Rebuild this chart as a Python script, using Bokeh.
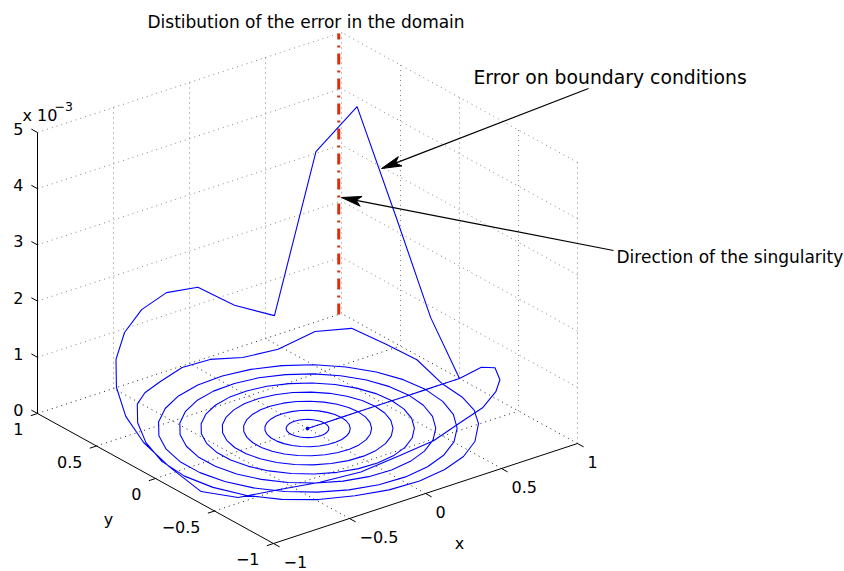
import numpy as np
from bokeh.plotting import figure
from bokeh.models import Range1d, Label
from bokeh.embed import file_html
from bokeh.resources import INLINE

# ---------------- data ----------------
N_SEGMENTS = 29                                   # angular samples per ring
THETA_DEG = np.linspace(0.0, 360.0, N_SEGMENTS + 1)
RING_RADII = [0.0, 1/9, 2/9, 3/9, 4/9, 5/9, 6/9, 7/9, 8/9, 1.0]
# error (x 1e-3) along the two outer rings, one value per angle; inner rings ~ 0
ERR_RING8 = [0.0, 0.23, 0.35, 0.53, 0.43, 0.13, 0.06, 0.16, 0.20, 0.17,
             0.23, 0.30, 0.25, 0.17, 0.09, 0.05, 0.03, 0.02, 0.02, 0.03,
             0.05, 0.05, 0.05, 0.05, 0.04, 0.04, 0.08, 0.04, 0.01, 0.0]
ERR_RING9 = [0.0, 0.86, 2.48, 4.32, 3.47, 0.57, 0.84, 1.31, 1.42, 1.37,
             1.25, 1.08, 0.90, 0.69, 0.51, 0.33, 0.09, 0.13, 0.35, 0.50,
             0.63, 0.80, 0.89, 1.00, 0.98, 0.96, 0.86, 0.76, 0.47, 0.0]

X_TICKS = [-1, -0.5, 0, 0.5, 1]
X_TICK_LABELS = ["\u22121", "\u22120.5", "0", "0.5", "1"]
Y_TICKS = [-1, -0.5, 0, 0.5, 1]
Y_TICK_LABELS = ["\u22121", "\u22120.5", "0", "0.5", "1"]
Z_TICKS = [0, 1, 2, 3, 4, 5]          # units of 1e-3
Z_TICK_LABELS = ["0", "1", "2", "3", "4", "5"]
SINGULARITY_XY = (0.982, 1.0)

TITLE = "Distibution of the error in the domain"
NOTE_BC = "Error on boundary conditions"
NOTE_SING = "Direction of the singularity"

FONT = "DejaVu Sans"

# ---------------- 3-D view (orthographic) ----------------
ORIGIN = (37.0, 413.0)     # screen position of (x=-1, y=1, z=0)
UX = (152.0, -50.0)        # per unit of x
UY = (-118.0, -65.0)       # per unit of y
UZ = (0.0, -56.2)          # per 1e-3 of z


def proj(x, y, z):
    x = np.asarray(x, float)
    y = np.asarray(y, float)
    z = np.asarray(z, float)
    sx = ORIGIN[0] + UX[0] * (x + 1) + UY[0] * (y - 1) + UZ[0] * z
    sy = ORIGIN[1] + UX[1] * (x + 1) + UY[1] * (y - 1) + UZ[1] * z
    return sx, sy


p = figure(width=844, height=571, x_range=Range1d(0, 844), y_range=Range1d(571, 0),
           output_backend="svg", toolbar_location=None,
           x_axis_location=None, y_axis_location=None, min_border=0,
           background_fill_color="white", border_fill_color="white",
           outline_line_color=None)
p.grid.visible = False

xmin, xmax = X_TICKS[0], X_TICKS[-1]
ymin, ymax = Y_TICKS[0], Y_TICKS[-1]
zmin, zmax = Z_TICKS[0], Z_TICKS[-1]


def seg_lists(pairs):
    x0, y0, x1, y1 = [], [], [], []
    for a3, b3 in pairs:
        a = proj(*a3); b = proj(*b3)
        x0.append(float(a[0])); y0.append(float(a[1]))
        x1.append(float(b[0])); y1.append(float(b[1]))
    return x0, y0, x1, y1


# ---------------- grid (dotted) ----------------
wall = []
for xv in X_TICKS[1:]:
    wall.append(((xv, ymax, zmin), (xv, ymax, zmax)))
for zv in Z_TICKS[1:]:
    wall.append(((xmin, ymax, zv), (xmax, ymax, zv)))
for yv in Y_TICKS[:-1]:
    wall.append(((xmax, yv, zmin), (xmax, yv, zmax)))
for zv in Z_TICKS[1:]:
    wall.append(((xmax, ymin, zv), (xmax, ymax, zv)))
p.segment(*seg_lists(wall), line_color="#858585", line_width=1, line_dash="1 4")

floor = []
for xv in X_TICKS[1:]:
    floor.append(((xv, ymin, zmin), (xv, ymax, zmin)))
for yv in Y_TICKS[1:]:
    floor.append(((xmin, yv, zmin), (xmax, yv, zmin)))
p.segment(*seg_lists(floor), line_color="#222222", line_width=1, line_dash="1 4")

# ---------------- singularity direction (red dash-dot) ----------------
sa = proj(SINGULARITY_XY[0], SINGULARITY_XY[1], zmin)
sb = proj(SINGULARITY_XY[0], SINGULARITY_XY[1], zmax)
p.line([float(sa[0]), float(sb[0])], [float(sa[1]), float(sb[1])],
       line_color="#d92c0a", line_width=3, line_dash="11 6 2 6")

# ---------------- error curve ----------------
th = np.radians(THETA_DEG)
cx, cy, cz = [], [], []
for k, r in enumerate(RING_RADII):
    if k == len(RING_RADII) - 2:
        zz = ERR_RING8
    elif k == len(RING_RADII) - 1:
        zz = ERR_RING9
    else:
        zz = [0.0] * len(THETA_DEG)
    cx.extend(r * np.cos(th)); cy.extend(r * np.sin(th)); cz.extend(zz)
sx, sy = proj(cx, cy, cz)
p.line(sx, sy, line_color="#0000ff", line_width=1.1)
c0 = proj(0, 0, 0)
p.scatter([float(c0[0])], [float(c0[1])], size=3, color="#0000ff")

# ---------------- axes ----------------
axes3 = [((xmin, ymax, zmin), (xmin, ymax, zmax)),
         ((xmin, ymax, zmin), (xmin, ymin, zmin)),
         ((xmin, ymin, zmin), (xmax, ymin, zmin))]
p.segment(*seg_lists(axes3), line_color="black", line_width=1)


def unit(v):
    n = np.hypot(v[0], v[1])
    return (v[0] / n, v[1] / n)


tz = unit(UY)
tyd = unit((-UX[0], -UX[1]))
txd = unit((-UY[0], -UY[1]))
TL = 7.0
tx0, ty0, tx1, ty1 = [], [], [], []
for zv in Z_TICKS:
    a = proj(xmin, ymax, zv)
    tx0.append(float(a[0])); ty0.append(float(a[1]))
    tx1.append(float(a[0] + TL * tz[0])); ty1.append(float(a[1] + TL * tz[1]))
for yv in Y_TICKS:
    a = proj(xmin, yv, zmin)
    tx0.append(float(a[0])); ty0.append(float(a[1]))
    tx1.append(float(a[0] + TL * tyd[0])); ty1.append(float(a[1] + TL * tyd[1]))
for xv in X_TICKS:
    a = proj(xv, ymin, zmin)
    tx0.append(float(a[0])); ty0.append(float(a[1]))
    tx1.append(float(a[0] + TL * txd[0])); ty1.append(float(a[1] + TL * txd[1]))
p.segment(tx0, ty0, tx1, ty1, line_color="black", line_width=1)

TS = "16px"
for zv, lab in zip(Z_TICKS, Z_TICK_LABELS):
    a = proj(xmin, ymax, zv)
    p.add_layout(Label(x=float(a[0]) - 14, y=float(a[1]) - 3.5, text=lab, text_font=FONT,
                       text_font_size=TS, text_align="right", text_baseline="middle",
                       text_color="black"))
for yv, lab in zip(Y_TICKS, Y_TICK_LABELS):
    a = proj(xmin, yv, zmin)
    p.add_layout(Label(x=float(a[0]) - 14, y=float(a[1]) + 15.5, text=lab, text_font=FONT,
                       text_font_size=TS, text_align="right", text_baseline="middle",
                       text_color="black"))
for xv, lab in zip(X_TICKS, X_TICK_LABELS):
    a = proj(xv, ymin, zmin)
    p.add_layout(Label(x=float(a[0]) + 10, y=float(a[1]) + 18, text=lab, text_font=FONT,
                       text_font_size=TS, text_align="left", text_baseline="middle",
                       text_color="black"))

# exponent
p.add_layout(Label(x=22, y=115, text="x 10", text_font=FONT, text_font_size=TS,
                   text_align="left", text_baseline="alphabetic", text_color="black"))
p.add_layout(Label(x=54, y=106, text="\u22123", text_font=FONT, text_font_size="12.5px",
                   text_align="left", text_baseline="alphabetic", text_color="black"))

# axis labels
p.add_layout(Label(x=459, y=543, text="x", text_font=FONT, text_font_size=TS,
                   text_align="center", text_baseline="alphabetic", text_color="black"))
p.add_layout(Label(x=108, y=519, text="y", text_font=FONT, text_font_size=TS,
                   text_align="center", text_baseline="alphabetic", text_color="black"))

# title
p.add_layout(Label(x=147, y=21, text=TITLE, text_font=FONT, text_font_size="17px",
                   text_align="left", text_baseline="alphabetic", text_color="black"))

# annotations
p.add_layout(Label(x=473, y=77, text=NOTE_BC, text_font=FONT, text_font_size="18.8px",
                   text_align="left", text_baseline="alphabetic", text_color="black"))
p.add_layout(Label(x=616, y=256, text=NOTE_SING, text_font=FONT, text_font_size="17px",
                   text_align="left", text_baseline="alphabetic", text_color="black"))

# annotation arrows (tail -> tip), notched filled heads
ARROWS = [((588, 88), (381, 168)), ((613, 250), (341, 197))]
HEAD_LEN, HEAD_HALF_W, NOTCH = 20.0, 5.0, 15.0
for (x0, y0), (x1, y1) in ARROWS:
    d = unit((x0 - x1, y0 - y1))
    n = (-d[1], d[0])
    bx, by = x1 + NOTCH * d[0], y1 + NOTCH * d[1]
    p.line([x0, bx], [y0, by], line_color="black", line_width=1.2)
    hx = [x1, x1 + HEAD_LEN * d[0] + HEAD_HALF_W * n[0], bx,
          x1 + HEAD_LEN * d[0] - HEAD_HALF_W * n[0]]
    hy = [y1, y1 + HEAD_LEN * d[1] + HEAD_HALF_W * n[1], by,
          y1 + HEAD_LEN * d[1] - HEAD_HALF_W * n[1]]
    p.patch(hx, hy, fill_color="black", line_color="black", line_width=1)

open("out.html", "w").write(file_html(p, INLINE))
